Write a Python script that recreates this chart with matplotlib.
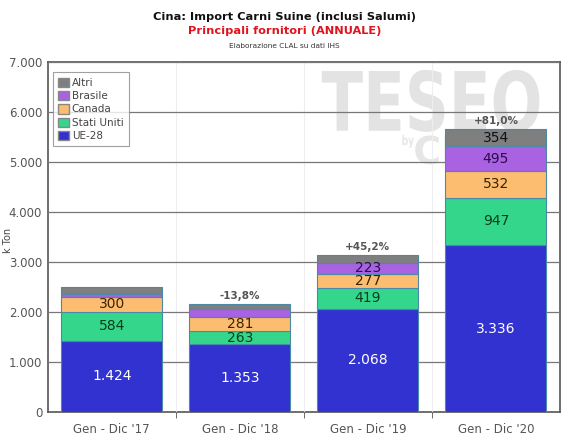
import numpy as np
import matplotlib.pyplot as plt
from matplotlib.patches import Patch, PathPatch
from matplotlib.textpath import TextPath
from matplotlib.font_manager import FontProperties
from matplotlib.transforms import Affine2D

# ================================
# Data (k Ton)
# ================================
periods = ["Gen - Dic '17", "Gen - Dic '18", "Gen - Dic '19", "Gen - Dic '20"]
ue28 = [1424, 1353, 2068, 3336]
stati_uniti = [584, 263, 419, 947]
canada = [300, 281, 277, 532]
brasile = [45, 165, 223, 495]
altri = [155, 102, 155, 354]
growth = [None, "-13,8%", "+45,2%", "+81,0%"]
yticks = [0, 1000, 2000, 3000, 4000, 5000, 6000, 7000]
ytick_labels = ["0", "1.000", "2.000", "3.000", "4.000", "5.000", "6.000", "7.000"]

series = [
    ("UE-28", ue28, "#3232d0", "white"),
    ("Stati Uniti", stati_uniti, "#34d68c", "#0b3d1e"),
    ("Canada", canada, "#fcbd70", "#3a2300"),
    ("Brasile", brasile, "#a862e2", "#2b0b4a"),
    ("Altri", altri, "#7f7f7f", "#111111"),
]
# labels only shown where the segment is big enough
show = {
    "UE-28": [True, True, True, True],
    "Stati Uniti": [True, True, True, True],
    "Canada": [True, True, True, True],
    "Brasile": [False, False, True, True],
    "Altri": [False, False, False, True],
}


def watermark(ax, s, x0, y0, w, h, color):
    # text drawn as a path, stretched into a box given in data units
    tp = TextPath((0, 0), s, size=1, prop=FontProperties(family="DejaVu Sans", weight="bold"))
    bb = tp.get_extents()
    tr = Affine2D().translate(-bb.x0, -bb.y0).scale(w / bb.width, h / bb.height).translate(x0, y0)
    ax.add_patch(PathPatch(tr.transform_path(tp), facecolor=color, edgecolor="none", zorder=0))


fig = plt.figure(figsize=(5.69, 4.45), dpi=100)
ax = fig.add_axes([0.084, 0.074, 0.900, 0.787])

# watermark "TESEO by CLAL"
watermark(ax, "TESEO", 1.64, 5600, 1.70, 1240, "#e3e3e3")
watermark(ax, "by", 2.27, 5280, 0.09, 260, "#e6e6e6")
watermark(ax, "CLAL", 2.37, 4950, 0.80, 580, "#e6e6e6")

x = np.arange(len(periods))
bottom = np.zeros(len(periods))
for name, vals, col, tcol in series:
    vals = np.array(vals, dtype=float)
    ax.bar(x, vals, width=0.79, bottom=bottom, color=col,
           edgecolor="#4a8aa6", linewidth=0.8, zorder=3)
    for i, v in enumerate(vals):
        if show[name][i]:
            lbl = f"{int(v):,}".replace(",", ".")
            ax.text(x[i], bottom[i] + v / 2, lbl, ha="center", va="center",
                    color=tcol, fontsize=10, zorder=4)
    bottom += vals

for i, g in enumerate(growth):
    if g:
        ax.text(x[i], bottom[i] + 60, g, ha="center", va="bottom",
                color="#555555", fontsize=7.5, fontweight="bold", zorder=4)

ax.set_xlim(-0.5, 3.5)
ax.set_ylim(0, 7000)
ax.set_yticks(yticks)
ax.set_yticklabels(ytick_labels, fontsize=8.5, color="#555555")
ax.set_xticks(x)
ax.set_xticklabels(periods, fontsize=8.5, color="#555555")
ax.tick_params(axis="x", length=0, pad=8)
ax.tick_params(axis="y", length=0, pad=4)
ax.set_xticks([0.5, 1.5, 2.5], minor=True)
ax.tick_params(axis="x", which="minor", length=4, color="#555555")
ax.grid(axis="y", color="#777777", linewidth=0.9, zorder=2)
ax.grid(axis="x", which="minor", color="#eeeeee", linewidth=0.8, zorder=0)
ax.set_axisbelow(False)
for s in ax.spines.values():
    s.set_color("#555555")
    s.set_linewidth(1.2)
fig.text(0.014, 0.46, "k Ton", rotation=90, ha="center", va="center",
         fontsize=7, color="#444444")

handles = [Patch(facecolor=c, edgecolor="#888888", label=n) for n, _, c, _ in series][::-1]
leg = ax.legend(handles=handles, loc="upper left", fontsize=7.5, frameon=True,
                fancybox=False, edgecolor="#888888", handlelength=1.0,
                handleheight=1.0, handletextpad=0.3, labelspacing=0.3,
                borderpad=0.5, bbox_to_anchor=(0.0, 0.985))
leg.get_frame().set_linewidth(0.8)
leg.set_zorder(5)
for t in leg.get_texts():
    t.set_color("#444444")

fig.text(0.5, 0.956, "Cina: Import Carni Suine (inclusi Salumi)", ha="center",
         fontsize=8.2, fontweight="bold", color="#111111")
fig.text(0.5, 0.924, "Principali fornitori (ANNUALE)", ha="center",
         fontsize=8.2, fontweight="bold", color="#e0141e")
fig.text(0.5, 0.893, "Elaborazione CLAL su dati IHS", ha="center",
         fontsize=5.3, color="#333333")

fig.savefig("out.png", dpi=100)
